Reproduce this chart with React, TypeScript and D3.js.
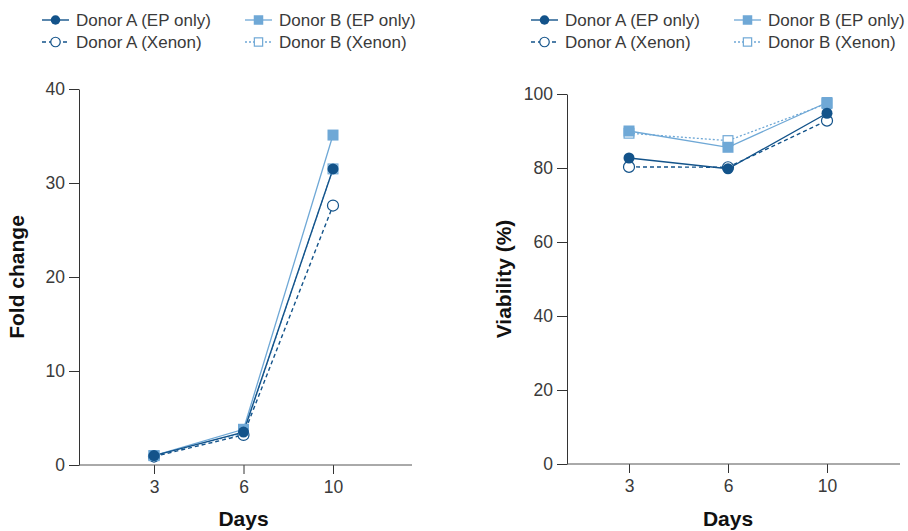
import React, { useEffect, useRef } from 'react';
import * as d3 from 'd3';

// days on the x axis
const days = ['3', '6', '10'];

// fold change panel
const foldTicks = [0, 10, 20, 30, 40];
const foldDonorAEP = [1.0, 3.5, 31.5];
const foldDonorBEP = [1.0, 3.8, 35.1];
const foldDonorAXenon = [0.9, 3.2, 27.6];
const foldDonorBXenon = [1.0, 3.4, 31.5];

// viability panel
const viabilityTicks = [0, 20, 40, 60, 80, 100];
const viabilityDonorAEP = [82.7, 79.8, 94.8];
const viabilityDonorBEP = [90.0, 85.6, 97.7];
const viabilityDonorAXenon = [80.3, 80.2, 92.8];
const viabilityDonorBXenon = [89.4, 87.4, 97.4];

const seriesNames = ['Donor A (EP only)', 'Donor B (EP only)', 'Donor A (Xenon)', 'Donor B (Xenon)'];

const DARK = '#13538a';
const LIGHT = '#6fa8d6';
const TEXT = '#3a3a3a';

type Style = { color: string; dash: string | null; shape: 'circle' | 'square'; filled: boolean; width: number };

const styles: Record<string, Style> = {
  'Donor A (EP only)': { color: DARK, dash: null, shape: 'circle', filled: true, width: 1.4 },
  'Donor B (EP only)': { color: LIGHT, dash: null, shape: 'square', filled: true, width: 1.3 },
  'Donor A (Xenon)': { color: DARK, dash: '4,3', shape: 'circle', filled: false, width: 1.4 },
  'Donor B (Xenon)': { color: LIGHT, dash: '2,2', shape: 'square', filled: false, width: 1.3 },
};

// draw back to front
const drawOrder = ['Donor B (Xenon)', 'Donor A (Xenon)', 'Donor B (EP only)', 'Donor A (EP only)'];

const FONT = '"Liberation Sans", Arial, sans-serif';

function marker(g: any, style: Style, cx: number, cy: number, size: number) {
  if (style.shape === 'circle') {
    g.append('circle')
      .attr('cx', cx)
      .attr('cy', cy)
      .attr('r', size / 2)
      .attr('fill', style.filled ? style.color : '#fff')
      .attr('stroke', style.color)
      .attr('stroke-width', style.filled ? 0 : 1.2);
  } else {
    const s = style.filled ? size : size - 1.2;
    g.append('rect')
      .attr('x', cx - s / 2)
      .attr('y', cy - s / 2)
      .attr('width', s)
      .attr('height', s)
      .attr('fill', style.filled ? style.color : '#fff')
      .attr('stroke', style.color)
      .attr('stroke-width', style.filled ? 0 : 1.2);
  }
}

function drawPanel(svg: any, opts: any) {
  const { left, right, top, bottom, pointRange, ticks, series, title, legendX, titleX } = opts;
  const x = d3.scalePoint<string>().domain(days).range(pointRange);
  const y = d3.scaleLinear().domain([0, ticks[ticks.length - 1]]).range([bottom, top]);

  const g = svg.append('g');

  // legend
  const legend = g.append('g');
  seriesNames.forEach((name, i) => {
    const st = styles[name];
    const lx = legendX + (i % 2) * 203;
    const ly = 20 + Math.floor(i / 2) * 22;
    legend
      .append('line')
      .attr('x1', lx)
      .attr('x2', lx + 27)
      .attr('y1', ly)
      .attr('y2', ly)
      .attr('stroke', st.color)
      .attr('stroke-width', st.width)
      .attr('stroke-dasharray', st.dash);
    marker(legend, st, lx + 13.5, ly, 9.5);
    legend
      .append('text')
      .attr('x', lx + 34)
      .attr('y', ly)
      .attr('dy', '0.35em')
      .attr('font-family', FONT)
      .attr('font-size', 17)
      .attr('fill', TEXT)
      .text(name);
  });

  // y axis
  const yAxis = g
    .append('g')
    .attr('transform', `translate(${left},0)`)
    .call(d3.axisLeft(y).tickValues(ticks).tickSize(10).tickSizeOuter(0).tickPadding(4));
  yAxis.selectAll('path, line').attr('stroke', '#333');
  yAxis.selectAll('text').attr('font-family', FONT).attr('font-size', 17.5).attr('fill', TEXT);

  // x axis
  const xAxis = g
    .append('g')
    .attr('transform', `translate(0,${bottom})`)
    .call(d3.axisBottom(x).tickSize(9).tickPadding(7));
  xAxis.select('.domain').remove();
  xAxis.selectAll('line').attr('stroke', '#333');
  xAxis.selectAll('text').attr('font-family', FONT).attr('font-size', 17.5).attr('fill', TEXT);
  xAxis
    .append('line')
    .attr('x1', left)
    .attr('x2', right)
    .attr('stroke', '#555')
    .attr('stroke-width', 1);

  // titles
  g.append('text')
    .attr('x', x('6'))
    .attr('y', 526)
    .attr('text-anchor', 'middle')
    .attr('font-family', FONT)
    .attr('font-weight', 'bold')
    .attr('font-size', 21)
    .attr('fill', '#111')
    .text('Days');
  g.append('text')
    .attr('transform', `translate(${titleX},${(top + bottom) / 2}) rotate(-90)`)
    .attr('text-anchor', 'middle')
    .attr('font-family', FONT)
    .attr('font-weight', 'bold')
    .attr('font-size', 21)
    .attr('fill', '#111')
    .text(title);

  // lines and markers
  const line = d3
    .line<number>()
    .x((d, i) => x(days[i]) as number)
    .y(d => y(d));

  drawOrder.forEach(name => {
    const st = styles[name];
    g.append('path')
      .datum(series[name])
      .attr('d', line)
      .attr('fill', 'none')
      .attr('stroke', st.color)
      .attr('stroke-width', st.width)
      .attr('stroke-dasharray', st.dash);
  });
  drawOrder.forEach(name => {
    const st = styles[name];
    series[name].forEach((v: number, i: number) => marker(g, st, x(days[i]) as number, y(v), 11));
  });
}

export default function App() {
  const ref = useRef<SVGSVGElement>(null);

  useEffect(() => {
    const svg = d3.select(ref.current);
    svg.selectAll('*').remove();

    drawPanel(svg, {
      left: 79,
      right: 412,
      top: 89,
      bottom: 465,
      pointRange: [154, 333],
      ticks: foldTicks,
      title: 'Fold change',
      titleX: 24,
      legendX: 42,
      series: {
        'Donor A (EP only)': foldDonorAEP,
        'Donor B (EP only)': foldDonorBEP,
        'Donor A (Xenon)': foldDonorAXenon,
        'Donor B (Xenon)': foldDonorBXenon,
      },
    });

    drawPanel(svg, {
      left: 567,
      right: 900,
      top: 94,
      bottom: 464,
      pointRange: [629, 827],
      ticks: viabilityTicks,
      title: 'Viability (%)',
      titleX: 511,
      legendX: 531,
      series: {
        'Donor A (EP only)': viabilityDonorAEP,
        'Donor B (EP only)': viabilityDonorBEP,
        'Donor A (Xenon)': viabilityDonorAXenon,
        'Donor B (Xenon)': viabilityDonorBXenon,
      },
    });
  }, []);

  return (
    <svg
      ref={ref}
      width={908}
      height={531}
      style={{ position: 'absolute', left: 0, top: 0, background: '#fff' }}
    />
  );
}
